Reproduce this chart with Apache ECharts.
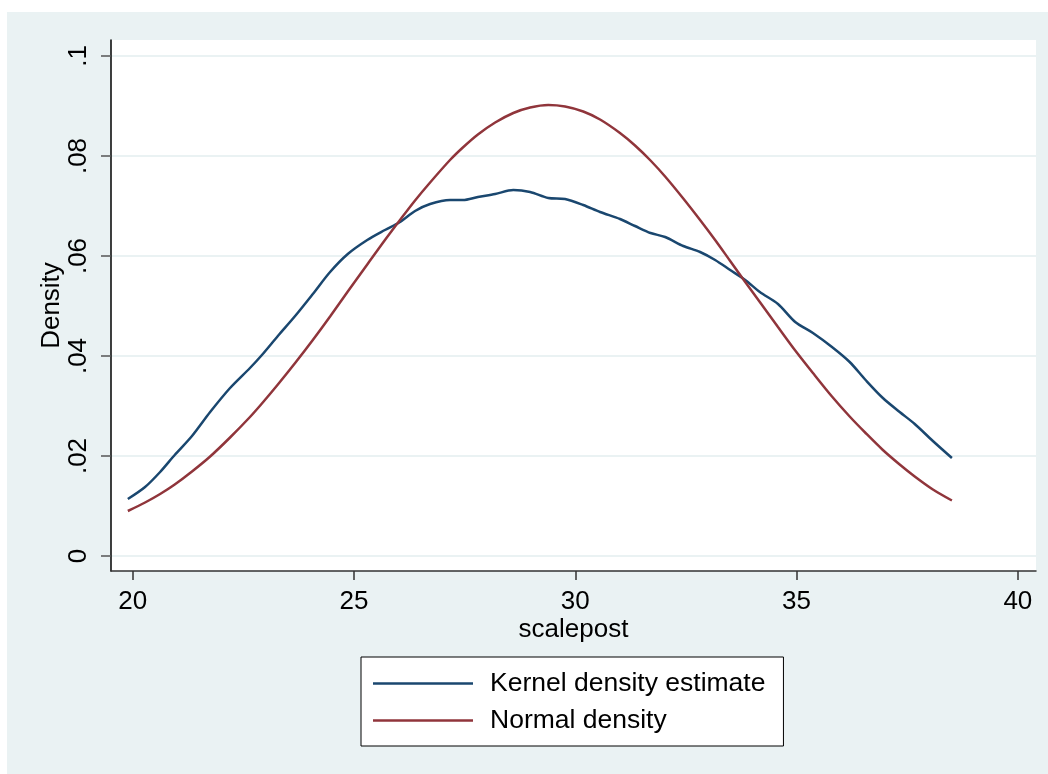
<!DOCTYPE html>
<html>
<head>
<meta charset="utf-8">
<script src="https://cdn.jsdelivr.net/npm/echarts@6/dist/echarts.min.js"></script>
<style>
html,body{margin:0;padding:0;background:#ffffff;}
#chart{position:absolute;left:7px;top:12px;width:1041px;height:762px;}
</style>
</head>
<body>
<div id="chart"></div>
<script>
// x positions of the estimated points (scalepost)
const xValues = [19.89, 20.28, 20.62, 20.95, 21.34, 21.75, 22.2, 22.65, 22.92, 23.28,
  23.67, 24.07, 24.46, 24.86, 25.3, 25.7, 26.04, 26.38, 26.72, 27.17,
  27.46, 27.8, 28.19, 28.6, 28.98, 29.39, 29.77, 30.18, 30.56, 31.01,
  31.35, 31.7, 32.03, 32.44, 32.82, 33.16, 33.5, 33.84, 34.17, 34.58,
  34.97, 35.37, 35.8, 36.2, 36.56, 36.95, 37.33, 37.67, 38.08, 38.51];
// Kernel density estimate
const kernelDensity = [0.0114, 0.0138, 0.0168, 0.0202, 0.024, 0.0288, 0.0336, 0.0376, 0.0402, 0.044,
  0.048, 0.0524, 0.0568, 0.0604, 0.0632, 0.0652, 0.0668, 0.069, 0.0704, 0.0712,
  0.0712, 0.0718, 0.0724, 0.0732, 0.0728, 0.0716, 0.0714, 0.0702, 0.0688, 0.0674,
  0.066, 0.0646, 0.0638, 0.062, 0.0608, 0.0592, 0.0572, 0.0552, 0.0528, 0.0504,
  0.0468, 0.0446, 0.0418, 0.0388, 0.0352, 0.0316, 0.0288, 0.0264, 0.023, 0.0196];
// Normal density
const normalDensity = [0.0090, 0.0107, 0.0124, 0.0143, 0.0169, 0.0199, 0.0237, 0.0278, 0.0305, 0.0343,
  0.0386, 0.0432, 0.0479, 0.0529, 0.0583, 0.0632, 0.0672, 0.0711, 0.0747, 0.0792,
  0.0817, 0.0843, 0.0867, 0.0886, 0.0897, 0.0902, 0.0899, 0.0889, 0.0873, 0.0846,
  0.0821, 0.0791, 0.0759, 0.0715, 0.0672, 0.0632, 0.0590, 0.0548, 0.0508, 0.0458,
  0.0411, 0.0366, 0.0319, 0.0279, 0.0246, 0.0212, 0.0183, 0.0159, 0.0133, 0.0111];
const xTicks = [20, 25, 30, 35, 40];
const yTicks = [0, 0.02, 0.04, 0.06, 0.08, 0.1];
const yTickLabels = ['0', '.02', '.04', '.06', '.08', '.1'];
const seriesNames = ['Kernel density estimate', 'Normal density'];
const xTitle = 'scalepost';
const yTitle = 'Density';

const FONT = '"Liberation Sans", Arial, Helvetica, sans-serif';
const chart = echarts.init(document.getElementById('chart'), null, {renderer: 'canvas'});

function pairs(ys){ return xValues.map((x, i) => [x, ys[i]]); }

chart.setOption({
  backgroundColor: '#eaf2f3',
  animation: false,
  textStyle: {fontFamily: FONT},
  grid: {
    left: 104, top: 28, width: 925, height: 531,
    show: true, backgroundColor: '#ffffff', borderWidth: 0,
    containLabel: false
  },
  xAxis: {
    type: 'value',
    min: 19.51, max: 40.41,
    name: xTitle,
    nameLocation: 'middle',
    nameGap: 46,
    nameMoveOverlap: false,
    nameTextStyle: {fontSize: 26, color: '#000', fontFamily: FONT},
    axisLine: {show: true, onZero: false, lineStyle: {color: '#333', width: 1.5}},
    axisTick: {show: true, customValues: xTicks, length: 9, lineStyle: {color: '#333', width: 1.5}},
    axisLabel: {customValues: xTicks, fontSize: 26, color: '#000', margin: 18, fontFamily: FONT},
    splitLine: {show: false}
  },
  yAxis: {
    type: 'value',
    min: -0.003, max: 0.1032,
    name: yTitle,
    nameLocation: 'middle',
    nameGap: 46,
    nameMoveOverlap: false,
    nameTextStyle: {fontSize: 26, color: '#000', fontFamily: FONT},
    axisLine: {show: true, onZero: false, lineStyle: {color: '#000', width: 1.5}},
    axisTick: {show: true, customValues: yTicks, length: 10, lineStyle: {color: '#555', width: 1.5}},
    axisLabel: {
      customValues: yTicks, fontSize: 26, color: '#000', margin: 19, rotate: 90, fontFamily: FONT,
      formatter: function (v) {
        const i = yTicks.findIndex(t => Math.abs(t - v) < 1e-9);
        return i >= 0 ? yTickLabels[i] : '';
      }
    },
    splitLine: {show: true, lineStyle: {color: '#eaf2f3', width: 2}}
  },
  legend: {
    orient: 'vertical',
    left: 354, top: 645,
    backgroundColor: '#ffffff',
    borderColor: '#000', borderWidth: 1,
    padding: [13, 18, 12, 12],
    icon: 'rect',
    itemWidth: 100, itemHeight: 2.5, itemGap: 10,
    textStyle: {fontSize: 26.5, color: '#000', lineHeight: 26, fontFamily: FONT, padding: [0, 0, 0, 12]},
    data: seriesNames
  },
  series: [
    {
      name: seriesNames[0], type: 'line', data: pairs(kernelDensity),
      symbol: 'none', smooth: 0.3,
      lineStyle: {color: '#1a476f', width: 2.5}, itemStyle: {color: '#1a476f'}
    },
    {
      name: seriesNames[1], type: 'line', data: pairs(normalDensity),
      symbol: 'none', smooth: 0.3,
      lineStyle: {color: '#90353b', width: 2.5}, itemStyle: {color: '#90353b'}
    }
  ]
});
</script>
</body>
</html>
